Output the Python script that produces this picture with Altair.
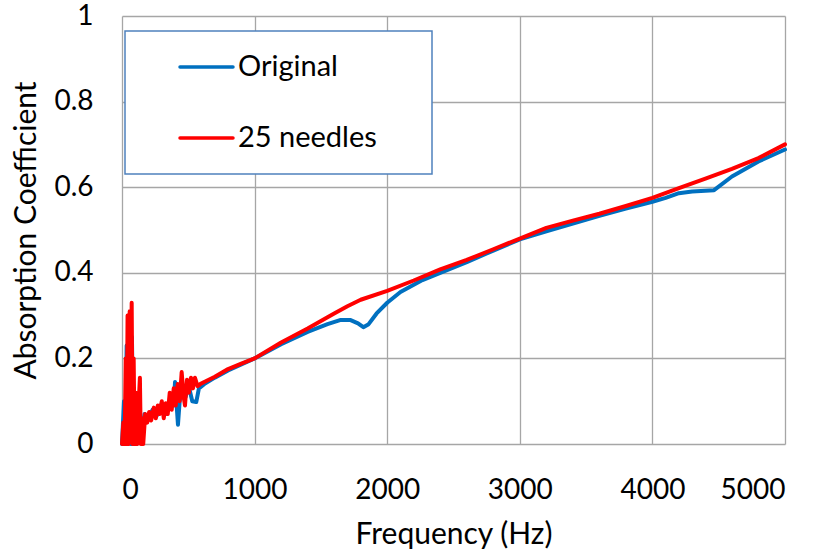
import altair as alt
import pandas as pd

# Absorption coefficient vs frequency, two measured samples
orig_freq = [0, 15, 25, 35, 45, 55, 65, 75, 85, 95, 110, 130, 150, 170, 200, 230, 260,
             300, 330, 360, 390, 400, 410, 422, 435, 450, 480, 500, 530, 560, 580, 620,
             700, 800, 900, 1000, 1200, 1400, 1550, 1650, 1720, 1780, 1820, 1860, 1920,
             2000, 2100, 2266, 2400, 2600, 2800, 3000, 3200, 3400, 3600, 3800, 4000,
             4100, 4200, 4300, 4465, 4600, 4800, 5000]
orig_alpha = [0.0, 0.1, 0.0, 0.23, 0.05, 0.28, 0.0, 0.25, 0.0, 0.1, 0.0, 0.06, 0.03,
              0.07, 0.06, 0.08, 0.065, 0.095, 0.07, 0.1, 0.09, 0.145, 0.1, 0.045, 0.1,
              0.13, 0.11, 0.14, 0.1, 0.098, 0.13, 0.14, 0.155, 0.172, 0.186, 0.2, 0.233,
              0.262, 0.28, 0.29, 0.29, 0.282, 0.273, 0.28, 0.305, 0.33, 0.355, 0.383,
              0.4, 0.425, 0.452, 0.478, 0.497, 0.515, 0.533, 0.55, 0.566, 0.575, 0.586,
              0.59, 0.593, 0.625, 0.66, 0.688]

needle_freq = [0, 10, 20, 28, 35, 42, 50, 58, 65, 73, 80, 88, 95, 105, 115, 125, 135,
               142, 150, 160, 175, 190, 205, 220, 240, 255, 270, 285, 300, 315, 330, 345,
               360, 375, 390, 405, 420, 435, 450, 465, 475, 490, 505, 520, 535, 550, 570,
               590, 620, 700, 800, 900, 1000, 1200, 1400, 1600, 1700, 1800, 2000, 2200,
               2400, 2600, 2800, 3000, 3200, 3400, 3600, 3800, 4000, 4200, 4400, 4600,
               4800, 5000]
needle_alpha = [0.0, 0.05, 0.0, 0.2, 0.0, 0.3, 0.0, 0.31, 0.02, 0.33, 0.0, 0.2, 0.0,
                0.12, 0.0, 0.09, 0.155, 0.0, 0.06, 0.0, 0.07, 0.05, 0.075, 0.055, 0.085,
                0.06, 0.09, 0.07, 0.1, 0.06, 0.095, 0.07, 0.12, 0.08, 0.13, 0.09, 0.14,
                0.1, 0.168, 0.11, 0.09, 0.15, 0.12, 0.155, 0.13, 0.155, 0.135, 0.14,
                0.145, 0.157, 0.175, 0.188, 0.2, 0.237, 0.27, 0.305, 0.322, 0.337, 0.358,
                0.382, 0.408, 0.43, 0.455, 0.48, 0.505, 0.522, 0.538, 0.556, 0.575,
                0.598, 0.62, 0.643, 0.668, 0.7]

series_names = ["Original", "25 needles"]
series_colors = ["#0070C0", "#FF0000"]

df = pd.concat([
    pd.DataFrame({"freq": orig_freq, "alpha": orig_alpha, "series": series_names[0], "order": 0}),
    pd.DataFrame({"freq": needle_freq, "alpha": needle_alpha, "series": series_names[1], "order": 1}),
])

FONT = "Lato"
LABEL_FS = 28
TITLE_FS = 30
LEGEND_FS = 29
W, H = 663, 428

x_enc = alt.X("freq:Q", scale=alt.Scale(domain=[0, 5000], nice=False),
              axis=alt.Axis(values=[0, 1000, 2000, 3000, 4000, 5000], title="Frequency (Hz)",
                            format="d", grid=True, ticks=False, domain=False,
                            labelPadding=32, titlePadding=15))
y_enc = alt.Y("alpha:Q", scale=alt.Scale(domain=[0, 1], nice=False),
              axis=alt.Axis(values=[0, 0.2, 0.4, 0.6, 0.8, 1], title="Absorption Coefficient",
                            grid=True, ticks=False, domain=False, labelPadding=29,
                            titlePadding=12,
                            labelExpr="datum.value == 0 || datum.value == 1 ? format(datum.value, 'd') : format(datum.value, '.1f')"))

lines = alt.Chart(df).mark_line(strokeWidth=4, strokeCap="round", strokeJoin="round").encode(
    x=x_enc,
    y=y_enc,
    color=alt.Color("series:N", scale=alt.Scale(domain=series_names, range=series_colors),
                    legend=None),
    order=alt.Order("order:Q"),
    detail="series:N",
)

# Legend panel
box = alt.Chart(pd.DataFrame({"k": [0]})).mark_rect(
    fill="white", stroke="#4F81BD", strokeWidth=1.5
).encode(x=alt.value(3), x2=alt.value(310), y=alt.value(15), y2=alt.value(158))

legend_layers = [box]
for i, (name, col) in enumerate(zip(series_names, series_colors)):
    yy = 51 + 71 * i
    legend_layers.append(
        alt.Chart(pd.DataFrame({"k": [0]})).mark_rule(color=col, strokeWidth=3.5, strokeCap="round")
        .encode(x=alt.value(58), x2=alt.value(111), y=alt.value(yy))
    )
    legend_layers.append(
        alt.Chart(pd.DataFrame({"k": [0]})).mark_text(
            text=name, align="left", baseline="middle", fontSize=LEGEND_FS, font=FONT, color="black"
        ).encode(x=alt.value(116), y=alt.value(yy))
    )

chart = alt.layer(lines, *legend_layers).properties(
    width=W, height=H,
    autosize=alt.AutoSizeParams(type="none"),
    padding={"left": 122, "top": 16, "right": 37, "bottom": 108},
).configure_view(stroke=None).configure_axis(
    gridColor="#A6A6A6", gridWidth=1.3, labelFont=FONT, titleFont=FONT,
    labelFontSize=LABEL_FS, titleFontSize=TITLE_FS, labelColor="black", titleColor="black",
    titleFontWeight="normal",
)

chart.save("out.html", embed_options={"renderer": "svg", "actions": False})
